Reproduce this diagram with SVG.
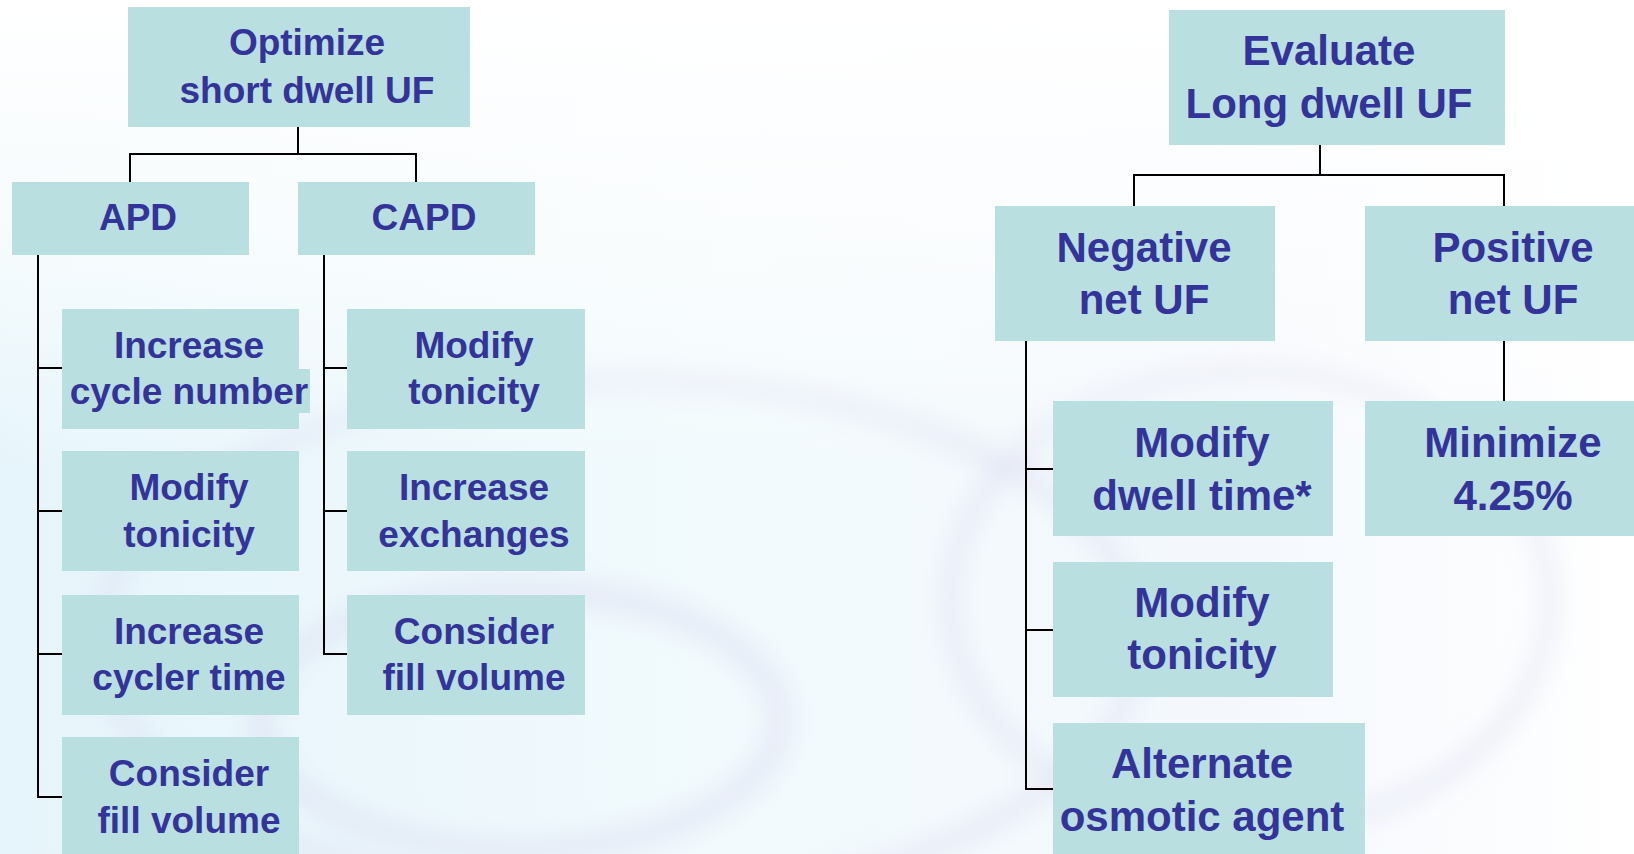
<svg xmlns="http://www.w3.org/2000/svg" width="1634" height="854" viewBox="0 0 1634 854">
<style>
.box{fill:#b9dfe1}
.t1{font-family:"Liberation Sans",Arial,sans-serif;font-weight:bold;font-size:37px;fill:#33339a;text-anchor:middle}
.t2{font-family:"Liberation Sans",Arial,sans-serif;font-weight:bold;font-size:42px;fill:#33339a;text-anchor:middle}
.conn{fill:none;stroke:#000;stroke-width:2}
</style>
<defs>
<linearGradient id="bg1" x1="0" y1="0" x2="1" y2="0">
<stop offset="0" stop-color="#e6f5fb"/>
<stop offset="0.45" stop-color="#f2fafd"/>
<stop offset="0.75" stop-color="#f4f8fd"/>
<stop offset="1" stop-color="#ffffff"/>
</linearGradient>
<linearGradient id="fade" x1="0" y1="0" x2="0" y2="1">
<stop offset="0" stop-color="#ffffff" stop-opacity="1"/>
<stop offset="0.3" stop-color="#ffffff" stop-opacity="0.6"/>
<stop offset="0.55" stop-color="#ffffff" stop-opacity="0"/>
</linearGradient>
<filter id="soft" x="-20%" y="-20%" width="140%" height="140%"><feGaussianBlur stdDeviation="12"/></filter>
</defs>
<rect x="0" y="0" width="1634" height="854" fill="url(#bg1)"/>
<g fill="none" stroke="#d8d8ee" stroke-opacity="0.45" filter="url(#soft)">
<ellipse cx="520" cy="720" rx="260" ry="130" stroke-width="24"/>
<ellipse cx="620" cy="640" rx="520" ry="260" stroke-width="18"/>
<ellipse cx="1250" cy="600" rx="300" ry="230" stroke-width="16"/>
</g>
<rect x="0" y="0" width="1634" height="854" fill="url(#fade)"/>

<g id="connectors">
<path class="conn" d="M298,127 V154 M130,183 V154 H416 V183"/>
<path class="conn" d="M38,255 V797 M37,368 H62 M37,511 H62 M37,654 H62 M37,797 H62"/>
<path class="conn" d="M324,255 V654 M323,368 H347 M323,511 H347 M323,654 H347"/>
<path class="conn" d="M1320,145 V175 M1134,207 V175 H1504 V207"/>
<path class="conn" d="M1026,341 V789 M1025,469 H1053 M1025,630 H1053 M1025,789 H1053"/>
<path class="conn" d="M1504,341 V402"/>
</g>

<g id="n_optimize"><rect class="box" x="128" y="7" width="342" height="120"/><text class="t1" x="307" y="55">Optimize</text><text class="t1" x="307" y="103">short dwell UF</text></g>
<g id="n_apd"><rect class="box" x="12" y="182" width="237" height="73"/><text class="t1" x="138" y="230">APD</text></g>
<g id="n_capd"><rect class="box" x="298" y="182" width="237" height="73"/><text class="t1" x="424" y="230">CAPD</text></g>
<g id="n_apd1"><rect class="box" x="62" y="309" width="237" height="120"/><rect class="box" x="298" y="369" width="12" height="44"/><text class="t1" x="189" y="358">Increase</text><text class="t1" x="189" y="404">cycle number</text></g>
<g id="n_apd2"><rect class="box" x="62" y="451" width="237" height="120"/><text class="t1" x="189" y="500">Modify</text><text class="t1" x="189" y="547">tonicity</text></g>
<g id="n_apd3"><rect class="box" x="62" y="595" width="237" height="120"/><text class="t1" x="189" y="644">Increase</text><text class="t1" x="189" y="690">cycler time</text></g>
<g id="n_apd4"><rect class="box" x="62" y="737" width="237" height="120"/><text class="t1" x="189" y="786">Consider</text><text class="t1" x="189" y="833">fill volume</text></g>
<g id="n_capd1"><rect class="box" x="347" y="309" width="238" height="120"/><text class="t1" x="474" y="358">Modify</text><text class="t1" x="474" y="404">tonicity</text></g>
<g id="n_capd2"><rect class="box" x="347" y="451" width="238" height="120"/><text class="t1" x="474" y="500">Increase</text><text class="t1" x="474" y="547">exchanges</text></g>
<g id="n_capd3"><rect class="box" x="347" y="595" width="238" height="120"/><text class="t1" x="474" y="644">Consider</text><text class="t1" x="474" y="690">fill volume</text></g>

<g id="n_evaluate"><rect class="box" x="1169" y="10" width="336" height="135"/><text class="t2" x="1329" y="65">Evaluate</text><text class="t2" x="1329" y="118">Long dwell UF</text></g>
<g id="n_negative"><rect class="box" x="995" y="206" width="280" height="135"/><text class="t2" x="1144" y="262">Negative</text><text class="t2" x="1144" y="314">net UF</text></g>
<g id="n_positive"><rect class="box" x="1365" y="206" width="280" height="135"/><text class="t2" x="1513" y="262">Positive</text><text class="t2" x="1513" y="314">net UF</text></g>
<g id="n_dwell"><rect class="box" x="1053" y="401" width="280" height="135"/><text class="t2" x="1202" y="457">Modify</text><text class="t2" x="1202" y="510">dwell time*</text></g>
<g id="n_minimize"><rect class="box" x="1365" y="401" width="280" height="135"/><text class="t2" x="1513" y="457">Minimize</text><text class="t2" x="1513" y="510">4.25%</text></g>
<g id="n_tonicity"><rect class="box" x="1053" y="562" width="280" height="135"/><text class="t2" x="1202" y="617">Modify</text><text class="t2" x="1202" y="669">tonicity</text></g>
<g id="n_osmotic"><rect class="box" x="1053" y="723" width="312" height="135"/><text class="t2" x="1202" y="778">Alternate</text><text class="t2" x="1202" y="831">osmotic agent</text></g>
</svg>
